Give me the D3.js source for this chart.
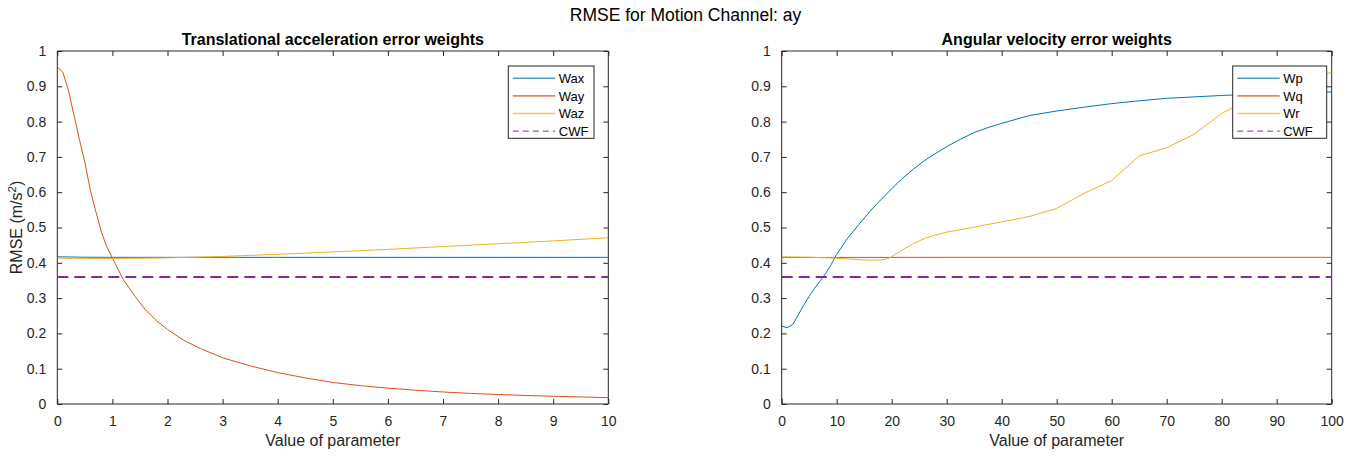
<!DOCTYPE html>
<html>
<head>
<meta charset="utf-8">
<script src="https://cdn.jsdelivr.net/npm/d3@7"></script>
<style>
  html, body { margin: 0; padding: 0; background: #fff; }
  svg text { font-family: "Liberation Sans", Arial, Helvetica, sans-serif; fill: #262626; }
</style>
</head>
<body>
<svg id="fig" width="1371" height="459"></svg>
<script>
// ---- Translational acceleration error weights (parameter 0..10) ----
const wayParam = [0, 0.1, 0.2, 0.3, 0.4, 0.5, 0.6, 0.7, 0.8, 0.9, 1.0, 1.2, 1.4, 1.6, 1.8, 2.0, 2.3, 2.6, 3.0, 3.5, 4, 4.5, 5, 5.5, 6, 6.5, 7, 7.5, 8, 8.5, 9, 9.5, 10];
const wayRmse  = [0.955, 0.94, 0.89, 0.82, 0.75, 0.685, 0.605, 0.545, 0.487, 0.445, 0.413, 0.352, 0.307, 0.267, 0.236, 0.211, 0.180, 0.157, 0.131, 0.108, 0.089, 0.074, 0.061, 0.052, 0.045, 0.039, 0.034, 0.030, 0.027, 0.024, 0.022, 0.020, 0.018];

const waxParam = [0, 0.5, 1, 2, 4, 6, 8, 10];
const waxRmse  = [0.417, 0.4158, 0.4155, 0.4155, 0.4155, 0.4155, 0.4155, 0.4155];

const wazParam = [0, 0.5, 1, 1.5, 2, 3, 4, 5, 6, 7, 8, 9, 10];
const wazRmse  = [0.413, 0.4125, 0.4125, 0.413, 0.414, 0.418, 0.424, 0.431, 0.438, 0.446, 0.454, 0.462, 0.471];

// ---- Angular velocity error weights (parameter 0..100) ----
const wpParam = [0, 1, 2, 3, 4, 5, 6, 7, 8, 9, 10, 12, 14, 16, 18, 20, 22, 24, 26, 28, 30, 32.5, 35, 37.5, 40, 45, 50, 55, 60, 65, 70, 75, 80, 85, 90, 95, 100];
const wpRmse  = [0.221, 0.216, 0.225, 0.252, 0.28, 0.305, 0.328, 0.349, 0.37, 0.395, 0.424, 0.47, 0.508, 0.545, 0.578, 0.61, 0.64, 0.666, 0.69, 0.71, 0.729, 0.75, 0.769, 0.783, 0.795, 0.817, 0.83, 0.841, 0.851, 0.859, 0.866, 0.870, 0.874, 0.877, 0.880, 0.882, 0.884];

const wqParam = [0, 10, 20, 30, 40, 50, 60, 70, 80, 90, 100];
const wqRmse  = [0.415, 0.4152, 0.4153, 0.4155, 0.4155, 0.4155, 0.4155, 0.4155, 0.4155, 0.4155, 0.4155];

const wrParam = [0, 5, 10, 12, 14, 16, 18, 19, 20, 22, 24, 26, 28, 30, 35, 40, 45, 50, 55, 60, 65, 70, 75, 80, 85, 90, 95, 100];
const wrRmse  = [0.417, 0.416, 0.413, 0.411, 0.409, 0.4075, 0.408, 0.410, 0.417, 0.437, 0.455, 0.469, 0.479, 0.487, 0.501, 0.516, 0.531, 0.554, 0.597, 0.633, 0.703, 0.726, 0.764, 0.823, 0.865, 0.893, 0.915, 0.94];

// Classical washout filter reference level
const cwfRmse = 0.36;

const yTicks = [0, 0.1, 0.2, 0.3, 0.4, 0.5, 0.6, 0.7, 0.8, 0.9, 1];
const transTicks = [0, 1, 2, 3, 4, 5, 6, 7, 8, 9, 10];
const angTicks = [0, 10, 20, 30, 40, 50, 60, 70, 80, 90, 100];

const colors = { blue: "#0072BD", orange: "#D95319", yellow: "#EDB120", purple: "#7E2F8E" };
const axisColor = "#262626";

const svg = d3.select("#fig");

svg.append("text")
  .attr("x", 685.5).attr("y", 21)
  .attr("text-anchor", "middle")
  .style("font-size", "17.5px")
  .style("fill", "#000")
  .text("RMSE for Motion Channel: ay");

function drawPanel(cfg) {
  const x = d3.scaleLinear().domain(cfg.xDomain).range([cfg.left, cfg.right]);
  const y = d3.scaleLinear().domain([0, 1]).range([404, 51]);
  const g = svg.append("g");

  const clipId = "clip-" + cfg.id;
  svg.append("clipPath").attr("id", clipId)
    .append("rect").attr("x", cfg.left).attr("y", 51)
    .attr("width", cfg.right - cfg.left).attr("height", 404 - 51);

  // bottom / left axes with labels, inward ticks
  const xAxis = d3.axisBottom(x).tickValues(cfg.xTicks).tickSize(-5).tickPadding(12)
    .tickFormat(d3.format("d"));
  const yAxis = d3.axisLeft(y).tickValues(yTicks).tickSize(-5).tickPadding(11)
    .tickFormat(d => d === 0 || d === 1 ? String(d) : d3.format(".1f")(d));
  const xTop = d3.axisTop(x).tickValues(cfg.xTicks).tickSize(-5).tickFormat("");
  const yRight = d3.axisRight(y).tickValues(yTicks).tickSize(-5).tickFormat("");

  const styleAxis = sel => {
    sel.select(".domain").attr("stroke", axisColor).attr("stroke-width", 1);
    sel.selectAll(".tick line").attr("stroke", axisColor).attr("stroke-width", 1);
    sel.selectAll(".tick text").style("font-size", "14px").style("fill", axisColor)
      .style("font-family", "'Liberation Sans', Arial, sans-serif");
  };

  g.append("g").attr("transform", "translate(0,404)").call(xAxis).call(styleAxis)
    .call(s => s.select(".domain").attr("d", `M${cfg.left},0H${cfg.right}`));
  g.append("g").attr("transform", `translate(${cfg.left},0)`).call(yAxis).call(styleAxis)
    .call(s => s.select(".domain").attr("d", `M0,404V51`));
  g.append("g").attr("transform", "translate(0,51)").call(xTop).call(styleAxis)
    .call(s => s.select(".domain").attr("d", `M${cfg.left},0H${cfg.right}`));
  g.append("g").attr("transform", `translate(${cfg.right},0)`).call(yRight).call(styleAxis)
    .call(s => s.select(".domain").attr("d", `M0,404V51`));

  // series
  const line = d3.line().x(d => x(d[0])).y(d => y(d[1]));
  const plot = g.append("g").attr("clip-path", `url(#${clipId})`);
  cfg.series.forEach(s => {
    const pts = s.xs.map((v, i) => [v, s.ys[i]]);
    plot.append("path").datum(pts)
      .attr("fill", "none").attr("stroke", s.color).attr("stroke-width", 1)
      .attr("d", line);
  });
  // CWF reference level
  plot.append("path").datum([[cfg.xDomain[0], cwfRmse], [cfg.xDomain[1], cwfRmse]])
    .attr("fill", "none").attr("stroke", colors.purple).attr("stroke-width", 2)
    .attr("stroke-dasharray", "11,6").attr("d", line);

  // title and x label
  const cx = (cfg.left + cfg.right) / 2;
  g.append("text").attr("x", cx).attr("y", 45).attr("text-anchor", "middle")
    .style("font-size", "16px").style("font-weight", "bold").style("fill", "#000")
    .text(cfg.title);
  g.append("text").attr("x", cx).attr("y", 446).attr("text-anchor", "middle")
    .style("font-size", "16px")
    .text("Value of parameter");

  // legend
  const lg = g.append("g");
  lg.append("rect").attr("x", cfg.legend.x).attr("y", 66)
    .attr("width", cfg.legend.w).attr("height", 72.3)
    .attr("fill", "#fff").attr("stroke", axisColor).attr("stroke-width", 1);
  const entries = cfg.series.map(s => ({ name: s.name, color: s.color, dash: null }))
    .concat([{ name: "CWF", color: colors.purple, dash: "6,4" }]);
  entries.forEach((e, i) => {
    const yy = 78.3 + i * 17.6;
    lg.append("line")
      .attr("x1", cfg.legend.x + 4.5).attr("x2", cfg.legend.x + 47)
      .attr("y1", yy).attr("y2", yy)
      .attr("stroke", e.color).attr("stroke-width", e.dash ? 1 : 1.6)
      .attr("stroke-opacity", e.dash ? 1 : 0.7)
      .attr("stroke-dasharray", e.dash);
    lg.append("text").attr("x", cfg.legend.x + 50.5).attr("y", yy + 4.8)
      .style("font-size", "13px").style("fill", "#000").text(e.name);
  });
}

drawPanel({
  id: "trans", left: 57.3, right: 608.3, xDomain: [0, 10], xTicks: transTicks,
  title: "Translational acceleration error weights",
  legend: { x: 508.3, w: 85.7 },
  series: [
    { name: "Wax", xs: waxParam, ys: waxRmse, color: colors.blue },
    { name: "Way", xs: wayParam, ys: wayRmse, color: colors.orange },
    { name: "Waz", xs: wazParam, ys: wazRmse, color: colors.yellow }
  ]
});

drawPanel({
  id: "ang", left: 781.7, right: 1331.7, xDomain: [0, 100], xTicks: angTicks,
  title: "Angular velocity error weights",
  legend: { x: 1232.7, w: 94 },
  series: [
    { name: "Wp", xs: wpParam, ys: wpRmse, color: colors.blue },
    { name: "Wq", xs: wqParam, ys: wqRmse, color: colors.orange },
    { name: "Wr", xs: wrParam, ys: wrRmse, color: colors.yellow }
  ]
});

// y axis label with superscript
const yl = svg.append("text")
  .attr("transform", "translate(22,227.5) rotate(-90)")
  .attr("text-anchor", "middle")
  .style("font-size", "16px");
yl.append("tspan").text("RMSE (m/s");
yl.append("tspan").attr("dy", -6).style("font-size", "11.5px").text("2");
yl.append("tspan").attr("dy", 6).text(")");
</script>
</body>
</html>
